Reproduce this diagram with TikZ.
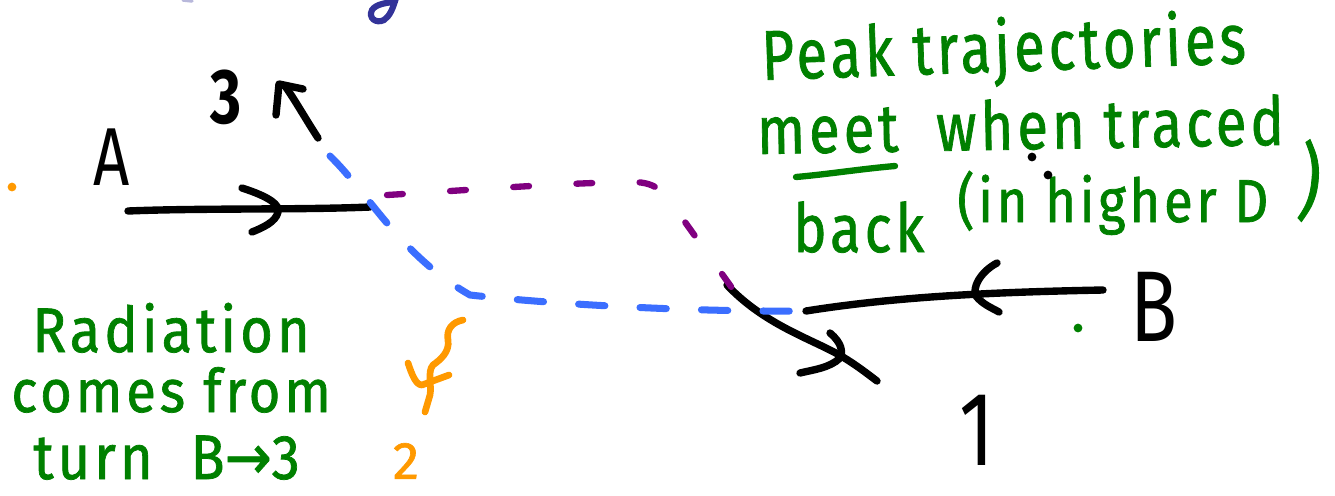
\documentclass[tikz,border=0pt]{standalone}
\usepackage{fontspec}
\setmainfont{Fira Sans}
\newfontfamily\hand[LetterSpace=7, FakeBold=1.2]{Fira Sans}
\newfontfamily\arrowfont[FakeBold=1.2]{DejaVu Sans}
\definecolor{ink}{HTML}{008000}
\definecolor{traj}{HTML}{3B6EFF}
\definecolor{peak}{HTML}{800080}
\definecolor{glow}{HTML}{FF9900}
\definecolor{pen}{HTML}{333399}
\newcommand\tallbox[2][1.3]{\scalebox{1}[#1]{#2}}
\tikzset{
  stroke/.style={line width=4.2pt, line cap=round, line join=round},
  blk/.style={stroke, black},
  dashtraj/.style={line width=4pt, line cap=round, traj, dash pattern=on 15pt off 20pt},
  dashpeak/.style={line width=3.6pt, line cap=round, peak, dash pattern=on 9pt off 27pt},
  note/.style={ink, font=\hand\fontsize{32}{36}\selectfont, inner sep=0, anchor=base west},
  lbl/.style={black, inner sep=0},
  speck/.style={inner sep=0, minimum size=5pt, circle, fill=#1},
}
\begin{document}
\begin{tikzpicture}[x=0.02cm, y=-0.02cm]
\useasboundingbox (0,0) rectangle (1335,495);

% trajectory end points
\coordinate (a0) at (128,211);
\coordinate (x0) at (370,207);
\coordinate (b0) at (1103,290);
\coordinate (b1) at (806,311);
\coordinate (o0) at (727,285);
\coordinate (o1) at (877,381);
\coordinate (t0) at (318,138);
\coordinate (t1) at (285,86);

% labels of the legs
\node[lbl, font=\fontsize{36}{40}\selectfont] (labA) at (112,157) {\tallbox{A}};
\node[lbl, font=\bfseries\fontsize{34}{40}\selectfont] (lab3) at (226,97) {\tallbox{3}};
\node[lbl, font=\fontsize{44}{50}\selectfont] (labB) at (1154,307) {\tallbox{B}};
\node[lbl, font=\fontsize{46}{50}\selectfont] (lab1) at (977,430) {\tallbox{1}};
\node[lbl, glow, font=\hand\fontsize{30}{34}\selectfont] (lab2) at (406,461) {2};

% incoming leg A
\draw[blk] (a0) .. controls (200,208) and (300,210) .. (x0);
\draw[blk] (242,188) .. controls (270,197) and (280,205) .. (278,212)
           .. controls (276,222) and (262,228) .. (252,232);

% outgoing leg 3
\draw[blk] (t0) .. controls (305,118) and (295,100) .. (t1);
\draw[blk] (276,115) -- (279,84) -- (303,89);

% incoming leg B
\draw[blk] (b0) .. controls (1000,292) and (900,296) .. (b1);
\draw[blk] (997,263) .. controls (980,272) and (972,288) .. (976,296)
           .. controls (982,304) and (992,308) .. (999,312);

% outgoing leg 1
\draw[blk] (o0) .. controls (760,320) and (800,335) .. (830,350)
           .. controls (850,360) and (865,372) .. (o1);
\draw[blk] (830,333) .. controls (842,343) and (843,352) .. (840,358)
           .. controls (830,368) and (812,370) .. (800,373);

% traced-back peak trajectories
\draw[dashtraj] (330,156) .. controls (370,195) and (400,255) .. (470,295)
                .. controls (560,305) and (700,312) .. (b1);
\draw[dashpeak] (387,195) .. controls (470,190) and (560,183) .. (632,182)
                .. controls (660,182) and (665,195) .. (680,215) -- (732,288);

% emitted radiation
\draw[glow, line width=3.8pt, line cap=round, line join=round]
  (463,320) .. controls (452,322) and (446,330) .. (448,340)
  .. controls (450,352) and (440,360) .. (433,365)
  .. controls (427,372) and (432,385) .. (430,395) -- (425,412);
\draw[glow, line width=3.8pt, line cap=round, line join=round]
  (408,363) .. controls (412,375) and (416,385) .. (422,385) -- (449,375);

% pen fragment at the top edge
\draw[pen, line width=3.5pt, line cap=round]
  (396,-2) .. controls (393,8) and (390,16) .. (384,20)
  .. controls (376,24) and (368,18) .. (372,10)
  .. controls (376,4) and (386,3) .. (393,2);
\draw[pen!35, line width=2pt, line cap=round] (183,0) -- (192,1);

% notes on the right
\node[note, rotate=2] (n1) at (762,80) {\tallbox[1.25]{Peak trajectories}};
\node[note, rotate=1] (n2) at (757,154) {\tallbox[1.2]{meet \ when traced}};
\node[note] (n3) at (793,252) {\tallbox[1.2]{back}};
\node[note, font=\hand\fontsize{30}{34}\selectfont] (n3b) at (957,222) {\tallbox[1.15]{(in higher D}};
\node[ink, inner sep=0, rotate=-6, font=\hand\fontsize{38}{40}\selectfont] (n4) at (1310,181) {\tallbox[1.25]{)}};
\draw[ink, line width=3.6pt, line cap=round] (796,177) .. controls (830,174) and (860,169) .. (895,166);

% notes on the left
\node[note] (r1) at (32,352) {\tallbox[1.12]{Radiation}};
\node[note, font=\hand\fontsize{31}{34}\selectfont] (r2) at (11,412) {\tallbox[1.1]{comes from}};
\node[note] (r3) at (33,479) {\tallbox[1.12]{turn \ B{\arrowfont →}3}};

% stray specks
\node[speck=glow] (s1) at (12,187) {};
\node[speck=ink] (s2) at (1078,328) {};
\node[speck=black] (s3) at (1032,157) {};
\node[speck=black] (s4) at (1048,175) {};
\end{tikzpicture}
\end{document}
